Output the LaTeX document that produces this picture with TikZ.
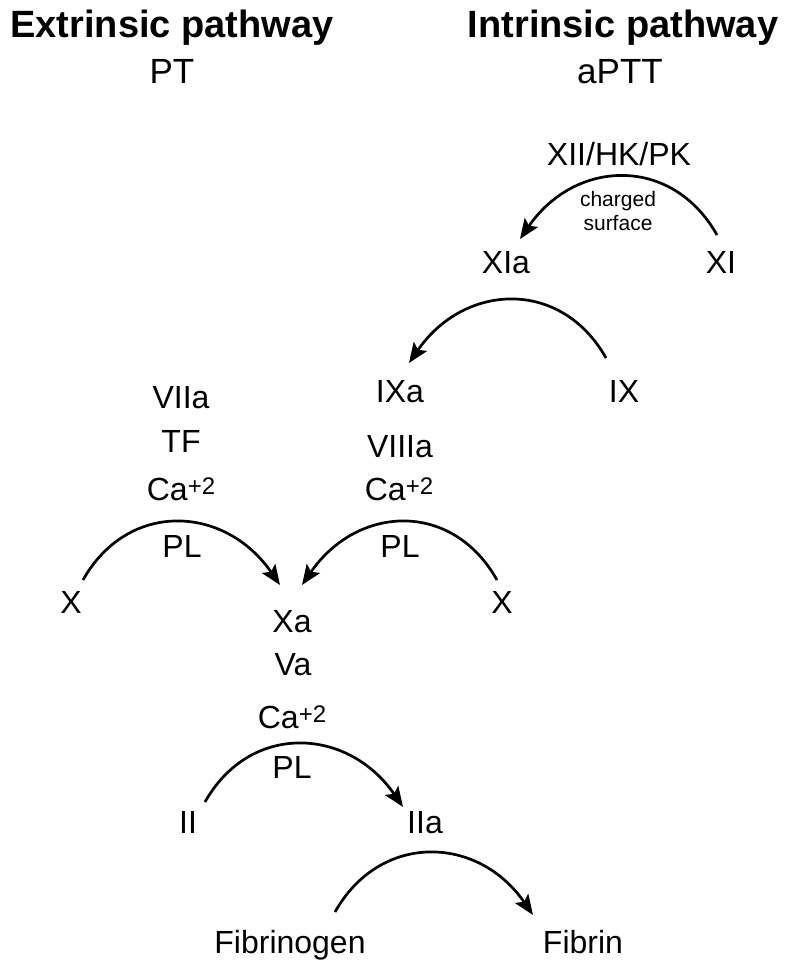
\documentclass[tikz,border=0pt]{standalone}
\usepackage{fontspec}
\setmainfont{Liberation Sans}
\usetikzlibrary{arrows.meta}
\newcommand{\catwo}{Ca\raisebox{6pt}{\fontsize{24}{24}\selectfont +2}}
\begin{document}
\begin{tikzpicture}[x=1pt,y=-1pt,
  lbl/.style={anchor=base,inner sep=0pt,font=\fontsize{32}{38}\selectfont},
  sub/.style={anchor=base,inner sep=0pt,font=\fontsize{35}{40}\selectfont},
  ttl/.style={anchor=base,inner sep=0pt,font=\fontsize{38}{44}\selectfont\bfseries},
  small/.style={anchor=base,inner sep=0pt,font=\fontsize{21}{24}\selectfont},
  conv/.style={line width=2.7pt,-{Stealth[length=20pt,width=16pt,inset=4pt]}}]
\useasboundingbox (0,0) rectangle (788,961);
% titles
\node[ttl] (ext) at (172,37) {Extrinsic pathway};
\node[sub] (pt) at (172,83) {PT};
\node[ttl] (int) at (623,37) {Intrinsic pathway};
\node[sub] (aptt) at (620,83) {aPTT};
% intrinsic top
\node[lbl] (xii) at (619,165) {XII/HK/PK};
\node[small] (chg) at (618,206) {charged};
\node[small] (surf) at (618,230) {surface};
\node[lbl] (xia) at (506,273) {XIa};
\node[lbl] (xi) at (721,273) {XI};
\node[lbl] (ixa) at (400,402) {IXa};
\node[lbl] (ix) at (624,402) {IX};
% cofactors
\node[lbl] (viia) at (181,408) {VIIa};
\node[lbl] (tf) at (181,452) {TF};
\node[lbl] (ca1) at (181,500) {\catwo};
\node[lbl] (pl1) at (182,557) {PL};
\node[lbl] (viiia) at (400,457) {VIIIa};
\node[lbl] (ca2) at (399,500) {\catwo};
\node[lbl] (pl2) at (400,557) {PL};
\node[lbl] (xl) at (71,613) {X};
\node[lbl] (xr) at (502,613) {X};
\node[lbl] (xa) at (292,632) {Xa};
\node[lbl] (va) at (293,675) {Va};
\node[lbl] (ca3) at (292,728) {\catwo};
\node[lbl] (pl3) at (292,778) {PL};
\node[lbl] (ii) at (188,833) {II};
\node[lbl] (iia) at (425,833) {IIa};
\node[lbl] (fbg) at (290,953) {Fibrinogen};
\node[lbl] (fbn) at (583,953) {Fibrin};
% conversions
\draw[conv] ([shift={(-4,-38)}]xi.base) .. controls +(-45,-80) and +(55,-80) .. ([shift={(14,-34)}]xia.base);
\draw[conv] ([shift={(-18,-44)}]ix.base) .. controls +(-45,-80) and +(55,-80) .. ([shift={(9,-39)}]ixa.base);
\draw[conv] ([shift={(12,-33)}]xl.base) .. controls +(45,-80) and +(-55,-80) .. ([shift={(-12,-47)}]xa.base);
\draw[conv] ([shift={(-5,-33)}]xr.base) .. controls +(-45,-80) and +(55,-80) .. ([shift={(10,-47)}]xa.base);
\draw[conv] ([shift={(17,-31)}]ii.base) .. controls +(45,-80) and +(-55,-80) .. ([shift={(-22,-26)}]iia.base);
\draw[conv] ([shift={(45,-41)}]fbg.base) .. controls +(45,-80) and +(-55,-80) .. ([shift={(-50,-38)}]fbn.base);
\end{tikzpicture}
\end{document}
